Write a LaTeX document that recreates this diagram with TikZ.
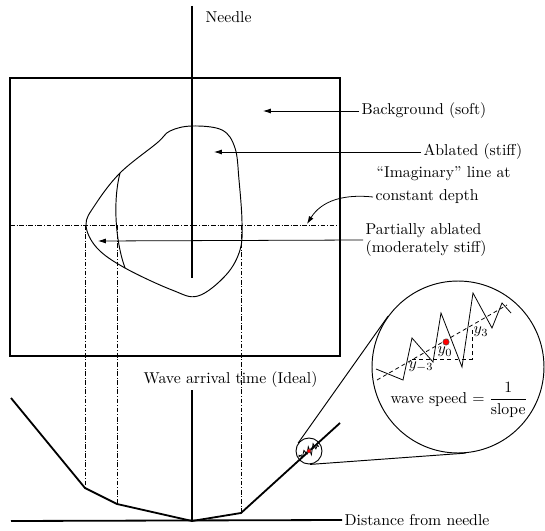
\documentclass[tikz,border=0pt]{standalone}
\usetikzlibrary{arrows.meta,positioning,calc}

\newcommand{\tracezig}{%
  \draw[zig] (-70,27) -- (-43,38) -- (-34,-4) -- (-13,20) -- (-5,-29) -- (16,25)
    -- (27,-49) -- (46,-14) -- (56,-39) -- (65,-29);
  \draw[slopeline] (-69,38) -- (61,-37);
}

\begin{document}
\begin{tikzpicture}[
  x=0.635pt, y=-0.635pt,
  heavy/.style={line width=1.15pt},
  outline/.style={line width=0.6pt},
  note/.style={anchor=west, align=left, inner sep=1.5pt},
  pointer/.style={-{Latex[length=5pt,width=3.2pt]}, line width=0.5pt},
  guide/.style={line width=0.45pt, dash pattern=on 3pt off 1.2pt on 0.4pt off 1.2pt},
  zig/.style={line width=0.5pt},
  slopeline/.style={line width=0.5pt, dash pattern=on 2.5pt off 2pt}
]
\useasboundingbox (0,0) rectangle (545,531);

% tissue sample with needle
\draw[heavy] (10,78) rectangle (340,356);
\draw[outline] plot[smooth cycle, tension=0.6] coordinates {
  (192,126) (222,130) (235,148) (239,180) (242,222) (240,250) (226,275)
  (198,296) (172,290) (125,268) (97,248) (86,225) (95,205) (120,173)
  (157,143) (170,131)};
\draw[outline] (120,173) .. controls (113,200) and (115,240) .. (125,268);
\draw[heavy] (192,6) -- (192,278);
\node[note] (needle) at (203,17) {Needle};

% imaginary line and projections
\draw[guide] (10,225) -- (340,225);
\coordinate (pa) at (85,488);
\coordinate (pb) at (117,504);
\coordinate (pc) at (241,513);
\draw[guide] (85,225) -- (pa);
\draw[guide] (117,225) -- (pb);
\draw[guide] (241,225) -- (pc);

% labels
\node[note] (soft) at (359,111) {Background (soft)};
\node[note] (stiff) at (421,152) {Ablated (stiff)};
\node[note] (imag) at (374,174) {``Imaginary'' line at};
\node[note] (depth) at (373,197) {constant depth};
\node[note] (partial) at (363,240) {Partially ablated\\(moderately stiff)};

\coordinate (softtip) at (263,111);
\coordinate (stifftip) at (214,152);
\coordinate (depthtip) at (307,224);
\coordinate (partialtip) at (98,241);
\draw[pointer] (soft.west) -- (softtip);
\draw[pointer] (stiff.west) -- (stifftip);
\draw[pointer] (depth.west) .. controls (345,194) and (322,200) .. (depthtip);
\draw[pointer] (partial.west) -- (partialtip);

% arrival time plot
\coordinate (origin) at (192,521);
\coordinate (axisleft) at (11,521);
\coordinate (axistop) at (192,390);
\node[note] (arrival) at (141,380) {Wave arrival time (Ideal)};
\node[note] (distance) at (342,520) {Distance from needle};
\draw[heavy] (axisleft) -- (distance.west);
\draw[heavy] (origin) -- (axistop);
\draw[heavy] (11,398) -- (pa) -- (pb) -- (origin) -- (pc) -- (340,423);

% magnified view
\node[circle, draw, outline, minimum size=16.5pt, inner sep=0pt] (lens) at (309,451) {};
\node[circle, draw, outline, minimum size=109.2pt, inner sep=0pt] (mag) at (458,367) {};
\draw[outline] (lens.144.7) -- (mag.144.7);
\draw[outline] (lens.-85.8) -- (mag.-85.8);

\begin{scope}[shift={(lens.center)}, scale=0.15]
  \tracezig
\end{scope}
\fill[red, draw=black!70, line width=0.2pt] (lens.center) circle (2);

\begin{scope}[shift={(446,342)}]
  \tracezig
  \draw[slopeline] (-34,17) -- (26,17) -- (26,-15);
  \fill[red, draw=black!70, line width=0.3pt] (0,0) circle (3.2);
  \node (ym) at (-25,25) {$y_{-3}$};
  \node (yz) at (-1,10) {$y_0$};
  \node (yp) at (35,-10) {$y_3$};
\end{scope}
\node (speed) at (459,400) {wave speed $=\displaystyle\frac{1}{\mathrm{slope}}$};

\end{tikzpicture}
\end{document}
